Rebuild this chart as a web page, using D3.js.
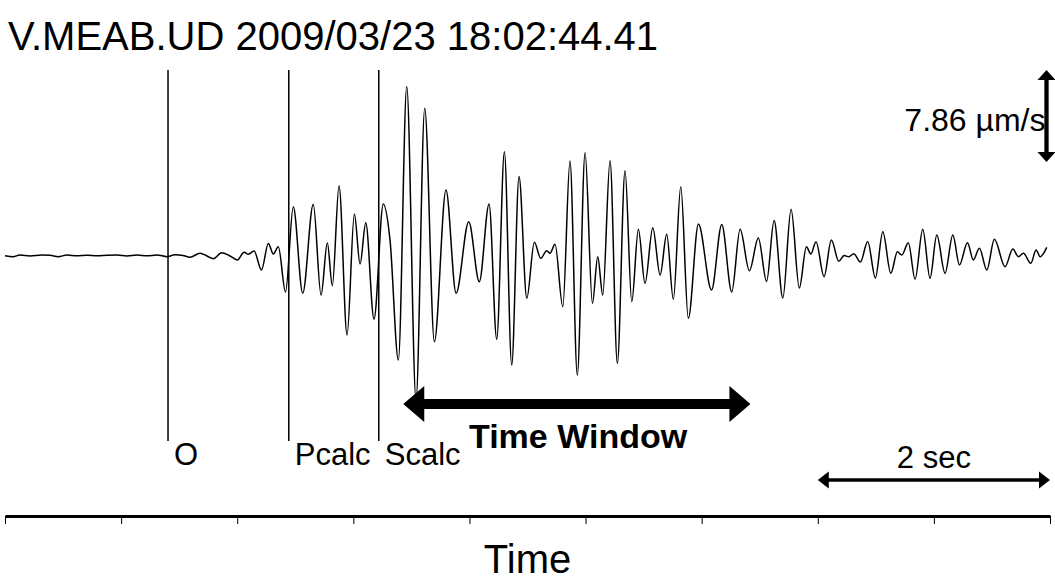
<!DOCTYPE html>
<html>
<head>
<meta charset="utf-8">
<script src="https://cdn.jsdelivr.net/npm/d3@7"></script>
<style>
  body { margin: 0; background: #fff; }
  svg { display: block; font-family: "Liberation Sans", Arial, sans-serif; }
</style>
</head>
<body>
<div id="chart"></div>
<script>
// waveform: time in s, amplitude in µm/s
const times = [0.000, 0.069, 0.129, 0.215, 0.319, 0.388, 0.457, 0.534, 0.620, 0.706,
  0.792, 0.879, 0.965, 1.051, 1.137, 1.223, 1.309, 1.395, 1.464, 1.533,
  1.593, 1.680, 1.740, 1.794, 1.866, 1.938, 2.001, 2.059, 2.096, 2.145,
  2.209, 2.268, 2.311, 2.354, 2.416, 2.483, 2.564, 2.655, 2.722, 2.776,
  2.819, 2.877, 2.946, 3.009, 3.058, 3.107, 3.178, 3.258, 3.316, 3.388,
  3.460, 3.540, 3.615, 3.698, 3.798, 3.885, 3.994, 4.085, 4.169, 4.235,
  4.301, 4.364, 4.427, 4.494, 4.559, 4.614, 4.666, 4.694, 4.737, 4.804,
  4.866, 4.929, 4.996, 5.059, 5.105, 5.148, 5.211, 5.274, 5.340, 5.398,
  5.455, 5.512, 5.579, 5.642, 5.699, 5.756, 5.820, 5.885, 5.972, 6.085,
  6.173, 6.259, 6.331, 6.411, 6.488, 6.559, 6.624, 6.699, 6.770, 6.841,
  6.902, 6.940, 6.985, 7.054, 7.117, 7.181, 7.227, 7.267, 7.310, 7.367,
  7.430, 7.496, 7.560, 7.629, 7.686, 7.723, 7.780, 7.838, 7.904, 7.967,
  8.025, 8.096, 8.163, 8.220, 8.289, 8.340, 8.392, 8.456, 8.521, 8.613,
  8.680, 8.728, 8.771, 8.835, 8.880, 8.915, 8.972];
const amps = [-0.02, -0.10, 0.04, -0.04, 0.04, 0.02, -0.10, 0.04, -0.02, 0.02,
  -0.02, 0.02, 0.04, -0.04, 0.04, -0.02, 0.04, -0.10, 0.07, 0.00,
  -0.15, 0.19, -0.04, -0.27, 0.24, -0.04, -0.38, 0.27, 0.10, 0.38,
  -1.24, 1.03, 0.13, 0.75, -3.12, 4.17, -3.23, 4.38, -3.38, 1.09,
  -2.58, 5.97, -6.79, 3.55, -0.73, 2.80, -5.43, 4.40, 1.32, -8.93,
  14.43, -12.35, 12.58, -7.37, 5.60, -3.23, 2.89, -2.24, 4.40, -7.16,
  8.87, -9.36, 6.74, -3.66, 1.13, -0.24, 0.41, 0.19, 0.96, -4.38,
  8.08, -10.21, 8.79, -4.09, -0.10, -3.38, 8.10, -9.21, 7.25, -3.95,
  2.24, -2.38, 2.38, -1.67, 1.81, -3.74, 5.88, -5.37, 2.69, -2.95,
  2.65, -3.12, 2.24, -1.30, 1.50, -2.22, 2.99, -3.63, 3.95, -2.78,
  0.75, 0.13, 1.18, -1.81, 1.32, -0.50, 0.00, -0.10, 0.15, -0.56,
  1.20, -1.92, 2.03, -1.52, 0.32, 0.04, 1.09, -2.03, 2.24, -1.95,
  1.75, -1.52, 1.75, -0.81, 1.09, -0.38, 0.62, -1.24, 1.38, -0.96,
  0.56, -0.10, 0.19, -0.67, 0.47, -0.10, 0.70];

const phaseNames = ["O", "Pcalc", "Scalc"];
const phaseTimes = [1.404, 2.444, 3.219];
const windowTimes = [3.43, 6.42];
const durationTimes = [7, 9];
const tickTimes = [0, 1, 2, 3, 4, 5, 6, 7, 8, 9];
const ampMax = 15.85;
const scaleAmp = 7.86;
const title = "V.MEAB.UD 2009/03/23 18:02:44.41";

const width = 1055, height = 583;

const svg = d3.select("#chart").append("svg")
    .attr("width", width)
    .attr("height", height);

const x = d3.scaleLinear().domain([0, 9]).range([5, 1050]);
const y = d3.scaleLinear().domain([-ampMax, ampMax]).range([441, 70]);

// arrow as one polygon, heads at both ends
function hArrow(x1, x2, yc, shaft, headLen, headH) {
    const s = shaft / 2, h = headH / 2;
    return [[x1, yc], [x1 + headLen, yc - h], [x1 + headLen, yc - s], [x2 - headLen, yc - s],
        [x2 - headLen, yc - h], [x2, yc], [x2 - headLen, yc + h], [x2 - headLen, yc + s],
        [x1 + headLen, yc + s], [x1 + headLen, yc + h]];
}
function vArrow(xc, y1, y2, shaft, headLen, headW) {
    return hArrow(y1, y2, xc, shaft, headLen, headW).map(p => [p[1], p[0]]);
}
const poly = d3.line();

// title
svg.append("text")
    .attr("x", 8)
    .attr("y", 50)
    .style("font-size", "40px")
    .text(title);

// phase markers
const markers = svg.append("g");
markers.selectAll("line")
    .data(phaseTimes)
    .enter().append("line")
    .attr("x1", d => x(d))
    .attr("x2", d => x(d))
    .attr("y1", y.range()[1])
    .attr("y2", y.range()[0])
    .attr("stroke", "#000")
    .attr("stroke-width", 1.5);
markers.selectAll("text")
    .data(phaseTimes)
    .enter().append("text")
    .attr("x", d => x(d) + 6)
    .attr("y", 465)
    .style("font-size", "31px")
    .text((d, i) => phaseNames[i]);

// waveform
const wave = times.map((t, i) => [t, amps[i]]);
svg.append("path")
    .datum(wave)
    .attr("fill", "none")
    .attr("stroke", "#000")
    .attr("stroke-width", 1.5)
    .attr("d", d3.line().x(d => x(d[0])).y(d => y(d[1])).curve(d3.curveMonotoneX));

// time window arrow
svg.append("path")
    .attr("d", poly(hArrow(x(windowTimes[0]), x(windowTimes[1]), 404, 10, 21, 36)) + "Z")
    .attr("fill", "#000");
svg.append("text")
    .attr("x", 469)
    .attr("y", 448)
    .style("font-size", "34px")
    .style("font-weight", "bold")
    .text("Time Window");

// 2 sec bar
svg.append("path")
    .attr("d", poly(hArrow(x(durationTimes[0]), x(durationTimes[1]), 480, 3.5, 11, 17)) + "Z")
    .attr("fill", "#000");
svg.append("text")
    .attr("x", (x(durationTimes[0]) + x(durationTimes[1])) / 2)
    .attr("y", 468)
    .attr("text-anchor", "middle")
    .style("font-size", "31px")
    .text((durationTimes[1] - durationTimes[0]) + " sec");

// amplitude bar
const barX = 1046.5;
svg.append("path")
    .attr("d", poly(vArrow(barX, y(ampMax), y(ampMax - scaleAmp), 4.3, 10, 18)) + "Z")
    .attr("fill", "#000");
svg.append("text")
    .attr("x", barX - 1)
    .attr("y", 131)
    .attr("text-anchor", "end")
    .style("font-size", "32px")
    .text(scaleAmp.toFixed(2) + " µm/s");

// time axis
const axis = svg.append("g")
    .attr("transform", "translate(0,516)")
    .call(d3.axisBottom(x).tickValues(tickTimes).tickFormat("").tickSize(8).tickSizeOuter(0));
axis.select(".domain").attr("stroke", "#000").attr("stroke-width", 3);
axis.selectAll(".tick line").attr("stroke", "#000").attr("stroke-width", 1);

svg.append("text")
    .attr("x", (x.range()[0] + x.range()[1]) / 2)
    .attr("y", 573)
    .attr("text-anchor", "middle")
    .style("font-size", "40px")
    .text("Time");
</script>
</body>
</html>
